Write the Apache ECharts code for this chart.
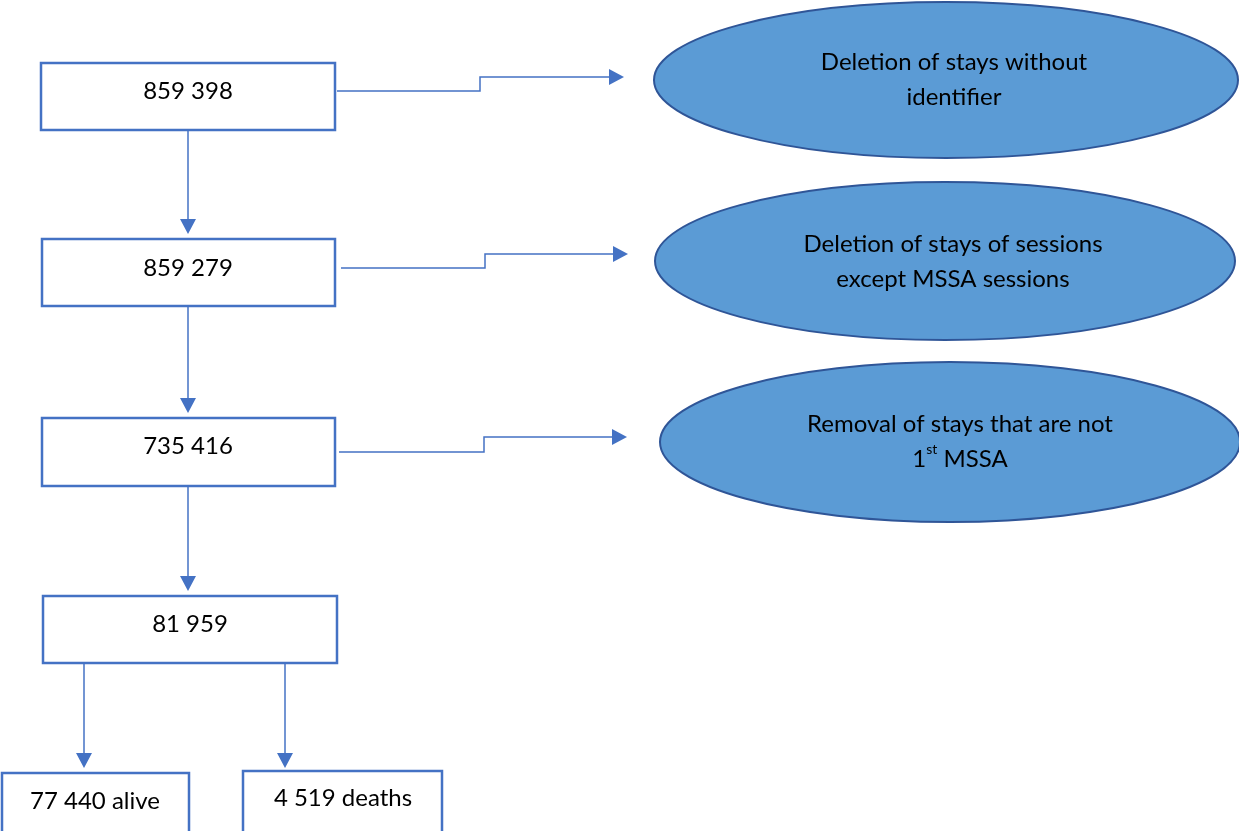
<!DOCTYPE html>
<html><head><meta charset="utf-8">
<script src="https://cdn.jsdelivr.net/npm/echarts@6/dist/echarts.min.js"></script>
<style>html,body{margin:0;padding:0;background:#fff}#c{width:1239px;height:831px}</style>
</head><body><div id="c"></div>
<script>
// ---- data ----
const stepCounts = ['859 398', '859 279', '735 416', '81 959'];
const outcomeLabels = ['77 440 alive', '4 519 deaths'];
const exclusionLines = [
  ['Deletion of stays without', 'identifier'],
  ['Deletion of stays of sessions', 'except MSSA sessions'],
  ['Removal of stays that are not', '{n|1}{sup|st}{n| MSSA}']
];

// ---- layout (diagram coordinates) ----
const boxLayout = [
  [41, 63, 335, 130, 188, 91], [42, 239, 335, 306, 188, 268],
  [42, 418, 335, 486, 188, 446], [43, 596, 337, 663, 190, 624],
  [2, 773, 189, 845, 95, 801], [243, 771, 442, 845, 343, 798]
];
const vArrowLayout = [[188,130,234],[188,306,413],[188,486,591],[84,663,768],[285,663,768]];
const elbowLayout = [
  [[337,91],[480,91],[480,77],[624,77]],
  [[341,268],[485,268],[485,254],[628,254]],
  [[339,452],[484,452],[484,437],[627,437]]
];
const ellipseLayout = [[946,80,292,78,954,80],[945,261,290,79,953,262],[950,442,290,80,960,442]];

const FONT = 'Lato, "Open Sans", sans-serif';
const FS = 24;
const BLUE = '#4472C4';

const boxLabels = stepCounts.concat(outcomeLabels);
const boxData = boxLayout.map((b, i) => b.concat([i]));
const ellData = ellipseLayout.map((e, i) => e.concat([i]));

function arrowHead(tip, dir) {
  const L = 15, W = 8;
  if (dir === 'down') return [[tip[0]-W, tip[1]-L],[tip[0]+W, tip[1]-L],[tip[0], tip[1]]];
  return [[tip[0]-L, tip[1]-W],[tip[0]-L, tip[1]+W],[tip[0], tip[1]]];
}

const chart = echarts.init(document.getElementById('c'), null, {renderer: 'canvas'});
chart.setOption({
  animation: false,
  backgroundColor: '#fff',
  grid: {left: 0, right: 0, top: 0, bottom: 0},
  xAxis: {type: 'value', min: 0, max: 1239, show: false},
  yAxis: {type: 'value', min: 0, max: 831, inverse: true, show: false},
  series: [
    {
      type: 'custom', coordinateSystem: 'cartesian2d', clip: false,
      data: ellData,
      renderItem: function (params, api) {
        const c = api.coord([api.value(0), api.value(1)]);
        const r = api.coord([api.value(0) + api.value(2), api.value(1) + api.value(3)]);
        const t = api.coord([api.value(4), api.value(5)]);
        const idx = api.value(6);
        return {type: 'group', children: [
          {type: 'ellipse', shape: {cx: c[0], cy: c[1], rx: r[0]-c[0], ry: r[1]-c[1]},
           style: {fill: '#5B9BD5', stroke: '#2F5597', lineWidth: 2}},
          {type: 'text', x: t[0], y: t[1], style: {
            text: exclusionLines[idx].map(s => s.indexOf('{') === 0 ? s : '{n|' + s + '}').join('\n'),
            align: 'center', verticalAlign: 'middle', fill: '#000',
            rich: {
              n: {fontFamily: FONT, fontSize: FS, lineHeight: 35, fill: '#000'},
              sup: {fontFamily: FONT, fontSize: 14, lineHeight: 30, fill: '#000', verticalAlign: 'top'}
            }}}
        ]};
      }
    },
    {
      type: 'custom', coordinateSystem: 'cartesian2d', clip: false,
      data: boxData,
      renderItem: function (params, api) {
        const p0 = api.coord([api.value(0), api.value(1)]);
        const p1 = api.coord([api.value(2), api.value(3)]);
        const t = api.coord([api.value(4), api.value(5)]);
        return {type: 'group', children: [
          {type: 'rect', shape: {x: p0[0], y: p0[1], width: p1[0]-p0[0], height: p1[1]-p0[1]},
           style: {fill: '#fff', stroke: BLUE, lineWidth: 2.5}},
          {type: 'text', x: t[0], y: t[1], style: {text: boxLabels[api.value(6)], align: 'center', verticalAlign: 'middle',
            fontFamily: FONT, fontSize: FS, fill: '#000'}}
        ]};
      }
    },
    {
      type: 'custom', coordinateSystem: 'cartesian2d', clip: false,
      data: vArrowLayout,
      renderItem: function (params, api) {
        const a = api.coord([api.value(0), api.value(1)]);
        const b = api.coord([api.value(0), api.value(2)]);
        return {type: 'group', children: [
          {type: 'line', shape: {x1: a[0], y1: a[1], x2: b[0], y2: b[1]-10}, style: {stroke: BLUE, lineWidth: 1.5}},
          {type: 'polygon', shape: {points: arrowHead(b, 'down')}, style: {fill: BLUE}}
        ]};
      }
    },
    {
      type: 'custom', coordinateSystem: 'cartesian2d', clip: false,
      data: elbowLayout.map((e, i) => [i]),
      renderItem: function (params, api) {
        const pts = elbowLayout[api.value(0)].map(p => api.coord(p));
        const tip = pts[pts.length-1];
        const linePts = pts.slice(0, -1).concat([[tip[0]-10, tip[1]]]);
        return {type: 'group', children: [
          {type: 'polyline', shape: {points: linePts}, style: {stroke: BLUE, lineWidth: 1.5, fill: null}},
          {type: 'polygon', shape: {points: arrowHead(tip, 'right')}, style: {fill: BLUE}}
        ]};
      }
    }
  ]
});
</script></body></html>
